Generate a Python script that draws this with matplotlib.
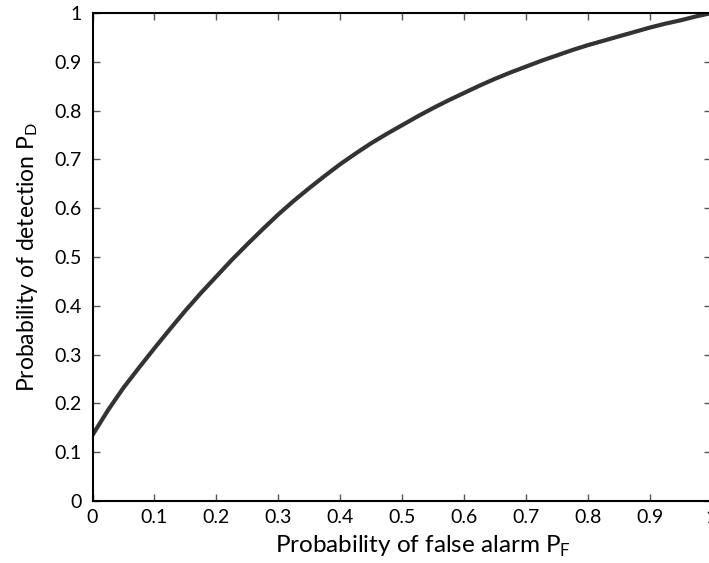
import matplotlib
matplotlib.use("Agg")
import matplotlib.pyplot as plt
import numpy as np

pf = [0.0, 0.025, 0.05, 0.075, 0.1, 0.125, 0.15, 0.175, 0.2, 0.225, 0.25,
      0.275, 0.3, 0.325, 0.35, 0.375, 0.4, 0.425, 0.45, 0.475, 0.5,
      0.525, 0.55, 0.575, 0.6, 0.625, 0.65, 0.675, 0.7, 0.725, 0.75,
      0.775, 0.8, 0.825, 0.85, 0.875, 0.9, 0.925, 0.95, 0.975, 1.0]
pd = [0.135, 0.186, 0.232, 0.273, 0.313, 0.352, 0.390, 0.426, 0.460, 0.494, 0.526,
      0.557, 0.587, 0.615, 0.641, 0.666, 0.690, 0.712, 0.733, 0.752, 0.770,
      0.788, 0.805, 0.821, 0.836, 0.851, 0.865, 0.878, 0.890, 0.902, 0.913,
      0.924, 0.934, 0.943, 0.952, 0.961, 0.970, 0.978, 0.985, 0.993, 1.0]
xticks = [0, 0.1, 0.2, 0.3, 0.4, 0.5, 0.6, 0.7, 0.8, 0.9, 1]
xticklabels = ["0", "0.1", "0.2", "0.3", "0.4", "0.5", "0.6", "0.7", "0.8", "0.9", "1"]
yticks = xticks
yticklabels = xticklabels

plt.rcParams['font.family'] = ['Lato', 'DejaVu Sans']
plt.rcParams['mathtext.fontset'] = 'custom'
plt.rcParams['mathtext.rm'] = 'Lato'

fig = plt.figure(figsize=(7.09, 5.63), dpi=100)
ax = fig.add_axes([92.5 / 709, 62 / 563, 619 / 709, 488 / 563])
ax.plot(pf, pd, color='#333333', lw=3, solid_capstyle='butt', solid_joinstyle='round')
ax.set_xlim(0, 1)
ax.set_ylim(0, 1)
ax.set_xticks(xticks)
ax.set_xticklabels(xticklabels)
ax.set_yticks(yticks)
ax.set_yticklabels(yticklabels)
ax.tick_params(direction='in', top=True, right=True, length=5, width=1,
               labelsize=14, color='#555555', pad=6)
ax.tick_params(axis='y', pad=8)
for s in ax.spines.values():
    s.set_linewidth(1.5)
ax.set_xlabel(r'Probability of false alarm P$_\mathrm{F}$', fontsize=17.5, labelpad=3)
ax.xaxis.set_label_coords((423 - 92.5) / 619, -0.068)
ax.set_ylabel(r'Probability of detection P$_\mathrm{D}$', fontsize=16.5, labelpad=10)
fig.savefig('out.png', dpi=100)
